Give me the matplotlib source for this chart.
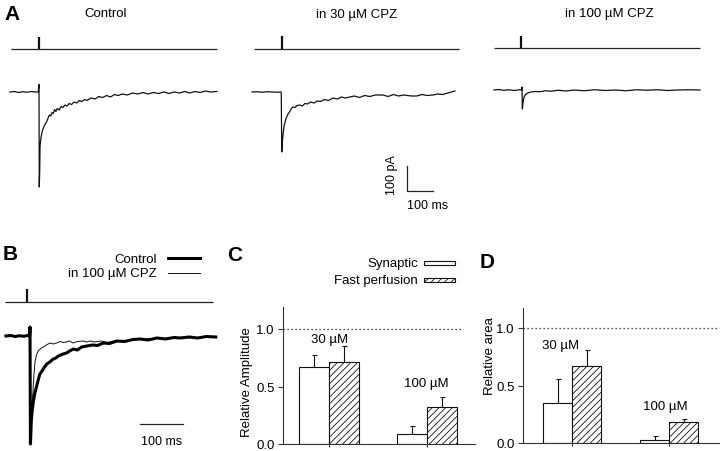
import matplotlib
matplotlib.use('Agg')
import matplotlib.pyplot as plt
from matplotlib.lines import Line2D
from matplotlib.patches import Rectangle
import numpy as np

plt.rcParams['font.family'] = ['Liberation Sans', 'DejaVu Sans']
plt.rcParams['hatch.linewidth'] = 0.6

# ------------------------------------------------------------------ data
# Panel A traces: time (ms from stimulus) and current (pA)
ctrlA_t = [-112, -95, -80, -62, -45, -30, -15, -3, 0, 1, 3, 4, 8, 12, 16, 20, 25, 30, 35, 40,
           45, 50, 55, 60, 65, 70, 78, 85, 92, 100, 108, 116, 125, 135, 145, 155, 165, 175, 185,
           200, 215, 230, 245, 260, 275, 290, 305, 320, 340, 360, 380, 400, 420, 440, 460, 480,
           500, 520, 540, 560, 580, 600, 620, 640, 660, 684]
ctrlA_i = [0, 2, -2, 1, -1, 2, 0, 0, 30, -380, -300, -216, -180, -160, -146, -136, -126, -118,
           -104, -92, -96, -82, -86, -70, -78, -66, -72, -58, -62, -52, -56, -46, -50, -40, -44,
           -34, -38, -30, -34, -24, -28, -18, -22, -14, -20, -10, -14, -8, -12, -4, -8, -2, -8,
           -2, -6, 0, -6, 0, -4, 2, -4, 2, -2, 4, 0, 2]

cpz30_t = [-113, -95, -75, -55, -35, -15, -1, 1, 4, 7, 10, 14, 18, 25, 32, 38, 44, 52, 60, 71,
           80, 90, 100, 112, 125, 137, 150, 165, 180, 198, 215, 230, 245, 263, 280, 300, 320,
           340, 360, 390, 410, 430, 450, 470, 500, 521, 540, 560, 583, 600, 620, 640, 667]
cpz30_i = [0, 1, -1, 1, 0, -1, 0, -240, -190, -160, -136, -120, -104, -88, -78, -66, -60, -62,
           -54, -52, -56, -46, -48, -40, -44, -36, -38, -30, -34, -24, -28, -20, -24, -20, -16,
           -22, -14, -18, -12, -12, -18, -10, -16, -12, -16, -16, -10, -14, -12, -8, -10, -4, 4]

cpz100_t = [-108, -90, -70, -50, -30, -10, -1, 0, 1.5, 4, 8, 14, 22, 35, 50, 70, 90, 110, 140,
            170, 200, 240, 280, 320, 360, 400, 440, 480, 520, 560, 600, 640, 685]
cpz100_i = [0, 2, -1, 1, -2, 1, 0, 12, -76, -50, -28, -18, -12, -8, -6, -7, -3, -5, -1, -4, 0,
            -3, 1, -2, 0, -3, 1, -1, 1, -2, 0, 1, 0]

# Panel B traces
ctrlB_t = [-56, -45, -35, -25, -15, -5, -1, 0, 1, 3, 5, 7.7, 11, 15.6, 19, 23, 28, 33, 39, 46,
           54, 60, 66, 77, 85, 92, 101, 110, 120, 132, 145, 157, 170, 185, 202, 220, 240, 256,
           275, 295, 315, 335, 349, 370, 390, 410, 432]
ctrlB_i = [0, 2, -2, 1, -1, 2, 0, 36, -432, -340, -300, -264, -230, -200, -176, -152, -140,
           -126, -112, -104, -92, -88, -80, -72, -68, -60, -52, -56, -44, -40, -36, -38, -28,
           -30, -20, -22, -14, -12, -16, -8, -12, -6, -8, -4, -8, -2, -4]

cpzB_t = [-56, -40, -25, -10, -1, 0, 1, 3, 6.3, 9, 11.6, 15, 19, 25, 31, 38, 46.5, 54, 62, 70,
          77, 85, 92, 100, 110, 123, 132, 140, 150, 165, 180, 200, 220, 256, 300, 349, 390, 432]
cpzB_i = [0, 1, -1, 1, 0, 20, -420, -330, -240, -160, -104, -76, -60, -50, -44, -36, -28, -32,
          -28, -22, -26, -24, -20, -28, -22, -20, -24, -20, -24, -20, -26, -18, -20, -12, -10,
          -8, -6, -4]

# Panels C and D
groups = ['30 µM', '100 µM']
amp_syn = [0.67, 0.087]
amp_syn_err = [0.10, 0.067]
amp_fast = [0.71, 0.32]
amp_fast_err = [0.145, 0.09]
area_syn = [0.35, 0.026]
area_syn_err = [0.21, 0.032]
area_fast = [0.67, 0.18]
area_fast_err = [0.14, 0.03]

yticks = [0.0, 0.5, 1.0]
ytick_labels = ['0.0', '0.5', '1.0']

SCALE_MS = 100
SCALE_PA = 100
STIM_AMP = 1.0
REF_LEVEL = 1.0

# ------------------------------------------------------------------ figure
W, H = 720, 452
fig = plt.figure(figsize=(W / 100, H / 100), dpi=100)
FS = 9.5


def px_axes(x0, y0, x1, y1, off=True):
    ax = fig.add_axes([x0 / W, 1 - y1 / H, (x1 - x0) / W, (y1 - y0) / H])
    if off:
        ax.axis('off')
    return ax


def trace_axes(x0, x1, y0, y1, t0px, base_px, px_per_ms, px_per_pA):
    ax = px_axes(x0, y0, x1, y1)
    ax.set_xlim((x0 - t0px) / px_per_ms, (x1 - t0px) / px_per_ms)
    ax.set_ylim(-(y1 - base_px) / px_per_pA, (base_px - y0) / px_per_pA)
    return ax


def stim_axes(x0, x1, y0, y1, t0px, base_px, px_per_ms, tick_px):
    ax = px_axes(x0, y0, x1, y1)
    ax.set_xlim((x0 - t0px) / px_per_ms, (x1 - t0px) / px_per_ms)
    ax.set_ylim(-(y1 - base_px) / tick_px, (base_px - y0) / tick_px)
    ax.plot(ax.get_xlim(), [0, 0], color='#222222', lw=0.9, clip_on=False,
            solid_capstyle='butt')
    ax.plot([0, 0], [0, STIM_AMP], color='#111111', lw=1.6, clip_on=False,
            solid_capstyle='butt')
    return ax


def ftext(x, y, s, **kw):
    kw.setdefault('fontsize', FS)
    return fig.text(x / W, 1 - y / H, s, **kw)


# ---------------- panel A
axA1 = trace_axes(10, 217, 75, 200, 39, 93, 0.26, 0.25)
axA1.plot(ctrlA_t, ctrlA_i, color='#111111', lw=0.9, clip_on=False)
stim_axes(11, 217, 30, 56, 39, 50, 0.26, 12)

axA2 = trace_axes(252, 459, 75, 215, 281.5, 93, 0.26, 0.25)
axA2.plot(cpz30_t, cpz30_i, color='#111111', lw=0.9, clip_on=False)
stim_axes(254, 459, 30, 56, 282, 50, 0.26, 13)
# scale bar
sb_t, sb_i = 483, -396
axA2.plot([sb_t, sb_t, sb_t + SCALE_MS], [sb_i + SCALE_PA, sb_i, sb_i],
          color='#222222', lw=0.9, clip_on=False)
axA2.text(sb_t - 58, sb_i + SCALE_PA * 0.68, f'{SCALE_PA} pA', rotation=90,
          ha='center', va='center', fontsize=9)
axA2.text(sb_t + 77, sb_i - 56, f'{SCALE_MS} ms', ha='center', va='center', fontsize=9)

axA3 = trace_axes(494, 700, 75, 130, 522, 91, 0.26, 0.25)
axA3.plot(cpz100_t, cpz100_i, color='#111111', lw=0.9, clip_on=False)
stim_axes(494, 700, 30, 55, 521, 49, 0.26, 12)

ftext(12, 14, 'A', fontsize=15, fontweight='bold', ha='center', va='center')
ftext(105.5, 14, 'Control', ha='center', va='center')
ftext(357, 15, 'in 30 µM CPZ', ha='center', va='center')
ftext(609, 14, 'in 100 µM CPZ', ha='center', va='center')

# ---------------- panel B
axB = trace_axes(6, 216, 320, 450, 30, 337, 0.43, 0.25)
axB.plot(cpzB_t, cpzB_i, color='#111111', lw=0.7, clip_on=False, zorder=2)
axB.plot(ctrlB_t, ctrlB_i, color='#000000', lw=2.2, clip_on=False, zorder=3)
stim_axes(5, 213, 280, 310, 27, 303, 0.43, 13)
sbB_t, sbB_i = 256, -352
axB.plot([sbB_t, sbB_t + SCALE_MS], [sbB_i, sbB_i], color='#222222', lw=0.9, clip_on=False)
axB.text(sbB_t + 49, sbB_i - 68, f'{SCALE_MS} ms', ha='center', va='center', fontsize=9)

ftext(10, 255, 'B', fontsize=15, fontweight='bold', ha='center', va='center')
ftext(157, 260, 'Control', ha='right', va='center')
ftext(157, 274, 'in 100 µM CPZ', ha='right', va='center')
fig.add_artist(Line2D([168 / W, 200 / W], [1 - 259 / H] * 2, transform=fig.transFigure,
                      color='k', lw=2.2))
fig.add_artist(Line2D([168 / W, 200 / W], [1 - 274 / H] * 2, transform=fig.transFigure,
                      color='#111111', lw=0.7))


# ---------------- panels C & D
def bar_panel(x0, y0, x1, y1, c0px, spacing, bar_px, syn, syn_err, fast, fast_err,
              ylabel, ylabel_xy, lab_pos, dot_end):
    ax = px_axes(x0, y0, x1, y1, off=False)
    ppu = 115.0
    ax.set_ylim(0, (y1 - y0) / ppu)
    ax.set_xlim((x0 - c0px) / spacing, (x1 - c0px) / spacing)
    x = np.arange(len(syn))
    w = bar_px / spacing
    ax.bar(x - w / 2, syn, w, facecolor='white', edgecolor='#111111', lw=0.8, zorder=2)
    ax.bar(x + w / 2, fast, w, facecolor='white', edgecolor='#111111', lw=0.8,
           hatch='/////', zorder=2)
    ax.errorbar(x - w / 2, syn, yerr=[np.zeros(len(syn)), syn_err], fmt='none',
                ecolor='#111111', elinewidth=0.8, capsize=1.8, capthick=0.8, zorder=1)
    ax.errorbar(x + w / 2, fast, yerr=[np.zeros(len(fast)), fast_err], fmt='none',
                ecolor='#111111', elinewidth=0.8, capsize=1.8, capthick=0.8, zorder=1)
    xl = ax.get_xlim()
    end = xl[1] if dot_end is None else dot_end
    ax.plot([xl[0], end], [REF_LEVEL, REF_LEVEL], ls=(0, (1, 2.2)), color='#111111',
            lw=0.9, zorder=1)
    for s in ['top', 'right']:
        ax.spines[s].set_visible(False)
    for s in ['left', 'bottom']:
        ax.spines[s].set_linewidth(0.8)
        ax.spines[s].set_color('#333333')
    ax.set_yticks(yticks)
    ax.set_yticklabels(ytick_labels, fontsize=FS)
    ax.set_xticks(x)
    ax.set_xticklabels([])
    ax.tick_params(axis='y', length=3.5, width=0.8, pad=2.5, color='#333333')
    ax.tick_params(axis='x', length=2.5, width=0.8, color='#333333')
    ax.patch.set_alpha(0)
    for (gx, gy), g in zip(lab_pos, groups):
        ax.text(gx, gy, g, ha='center', va='center', fontsize=FS)
    ftext(ylabel_xy[0], ylabel_xy[1], ylabel, rotation=90, ha='center', va='center')
    return ax


bar_panel(283, 308, 475, 445, 329, 98.0, 30, amp_syn, amp_syn_err, amp_fast, amp_fast_err,
          'Relative Amplitude', (247, 382), [(0.01, 0.913), (0.99, 0.53)], 1.357)
bar_panel(523, 309, 719, 444, 572, 97.0, 29, area_syn, area_syn_err, area_fast, area_fast_err,
          'Relative area', (490, 356), [(-0.113, 0.852), (0.959, 0.32)], None)

ftext(235, 255.5, 'C', fontsize=15, fontweight='bold', ha='center', va='center')
ftext(487, 262, 'D', fontsize=15, fontweight='bold', ha='center', va='center')

ftext(418, 264, 'Synaptic', ha='right', va='center')
ftext(418, 281, 'Fast perfusion', ha='right', va='center')
fig.add_artist(Rectangle((424 / W, 1 - 266 / H), 31 / W, 4 / H, transform=fig.transFigure,
                         facecolor='white', edgecolor='#111111', lw=0.8))
fig.add_artist(Rectangle((424 / W, 1 - 283 / H), 31 / W, 4 / H, transform=fig.transFigure,
                         facecolor='white', edgecolor='#111111', lw=0.8, hatch='/////'))

fig.savefig('out.png', dpi=100)
